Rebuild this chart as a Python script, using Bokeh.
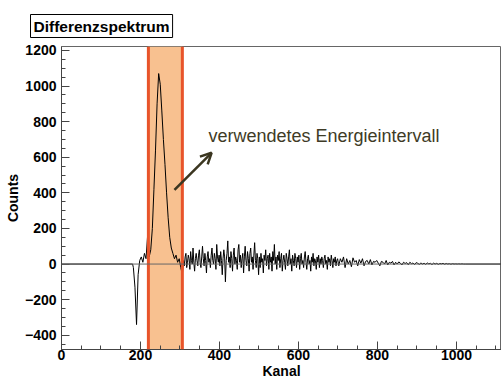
import numpy as np
from bokeh.plotting import figure
from bokeh.models import Range1d, SingleIntervalTicker, Span, Arrow, OpenHead
from bokeh.core.properties import value
from bokeh.embed import file_html
from bokeh.resources import INLINE

# ---- data ----
# (start channel, bin width, counts)
seg_peak_start, seg_peak_width = 180, 4
counts_peak = [-20, -130, -340, -60, 20, 40, 10, 60, 30, 160,
               40, 80, 200, 420, 640, 900, 1070, 1010, 860, 700, 560, 400, 260, 150,
               90, 60, 30, 50, 10, 30, -20, -60]
seg_a_start, seg_a_width = 308, 2
counts_a = [20, -10, 40, 60, -20, 10, 50, 30, -30, 70, 20, 0, 90, 10, -40, 30, 60, 20, -10, 50,
            80, 10, -20, 40, 100, 30, -10, 60, 20, -50, 40, 70, 10, 30, -20, 50, 90, 20, 0, 60,
            30, -30, 110, 40, 10, 50, -10, 70, 20, -60, 30, 80, 40, -100, 20, 60, 130, 10, 40, -20,
            70, 30, -40, 50, 90, 0, 40, 20, -30, 80, 110, 10, 50, -20, 30, 60, -50, 40, 100, 20,
            -10, 70, 30, -40, 60, 90, 10, 40, -30, 50, 120, 20, -20, 60, 30, -60]
seg_b_start, seg_b_width = 500, 2
counts_b = [40, -20, 60, 10, 30, -50, 50, 20, 80, -10, 30, 50, -30, 60, 10, 40, -40, 70, 20, 110,
            0, 40, -30, 50, 20, 70, -20, 30, 60, -40, 20, 50, 10, -30, 60, 30, -10, 40, 80, 0,
            30, -40, 50, 20, -10, 60, 30, -20, 40, 10, 50, -30, 30, 60, 0, 20, -20, 40, 70, 10,
            -30, 30, 50, 0, 20, -40, 40, 10, 60, -10, 30, 20, -30, 40, 10, 50, -20, 30, 0, 40,
            20, -20, 30, 50, 0, 20, -30, 40, 10, 30, -10, 50, 20, -20, 30, 10, 40, -10, 20, 30]
seg_c_start, seg_c_width = 700, 4
counts_c = [-10, 30, 10, 40, -20, 30, 0, 20, -15, 35, 10, 20, -10, 25, 5, 30, -10, 15, 20, 0,
            25, -5, 15, 10, 20,
            5, -10, 15, 10, 0, 20, -5, 10, 5, 15, -5, 10, 0, 12, 5, -5, 10, 3, 8, -4, 10, 2, 6,
            -3, 8,
            4, -2, 6, 0, 5, -2, 6, 1, 4, -3, 5, 0, 4, -2, 3, 1, 4, -1, 3, 0, 2, -1, 2, 0, 1, 0,
            1, 0, 1, 0, 0]

interval = [220, 306]
tick_interval = 200
annotation_text = "verwendetes Energieintervall"
arrow_start = (286, 417)
arrow_end = (380, 625)
text_pos = (372, 720)
title_text = "Differenzspektrum"

segments = [(seg_peak_start, seg_peak_width, counts_peak),
            (seg_a_start, seg_a_width, counts_a),
            (seg_b_start, seg_b_width, counts_b),
            (seg_c_start, seg_c_width, counts_c)]

x_lo, x_hi = 0, 1114
y_lo, y_hi = -480, 1222

hx = [x_lo, seg_peak_start]
hy = [0, 0]
for start, width, vals in segments:
    hx += list(start + width * (np.arange(len(vals)) + 0.5))
    hy += list(vals)
last_edge = seg_c_start + seg_c_width * len(counts_c)
hx += [last_edge, x_hi]
hy += [0, 0]

W, H = 501, 381
p = figure(width=W, height=H, output_backend="svg", toolbar_location=None,
           x_range=Range1d(x_lo, x_hi), y_range=Range1d(y_lo, y_hi),
           min_border_left=61, min_border_right=0, min_border_top=46, min_border_bottom=32)
p.xgrid.visible = False
p.ygrid.visible = False
p.outline_line_color = "#666666"
p.background_fill_color = "white"
p.border_fill_color = "white"

# title box
p.title.text = title_text
p.title.align = "left"
p.title.vertical_align = "top"
p.title.offset = -31
p.title.standoff = 14
p.title.text_font = "Liberation Sans"
p.title.text_font_style = "bold"
p.title.text_font_size = "15.5px"
p.title.text_color = "black"
p.title.border_line_color = "black"
p.title.border_line_width = 1
p.title.background_fill_color = "white"
p.title.padding = 3

# orange band
p.quad(left=[interval[0]], right=[interval[1]], top=[y_hi], bottom=[y_lo],
       fill_color="#f8c190", line_color=None)
for xv in interval:
    p.add_layout(Span(location=xv, dimension="height", line_color="#e8542a", line_width=3))

# zero line
p.add_layout(Span(location=0, dimension="width", line_color="#666666", line_width=1))

# histogram
p.line(x=hx, y=hy, line_color="black", line_width=1)

# arrow + text
p.add_layout(Arrow(end=OpenHead(line_color="#3b3620", line_width=2.5, size=11),
                   x_start=arrow_start[0], y_start=arrow_start[1],
                   x_end=arrow_end[0], y_end=arrow_end[1],
                   line_color="#3b3620", line_width=2.5))
p.text(x=[text_pos[0]], y=[text_pos[1]], text=[annotation_text],
       text_font=value("Liberation Sans"), text_font_size="18px",
       text_color="#3e3b26", text_baseline="middle", text_align="left")

# axes
for ax in (p.xaxis[0], p.yaxis[0]):
    ax.ticker = SingleIntervalTicker(interval=tick_interval, num_minor_ticks=4)
    ax.major_tick_in = 8
    ax.major_tick_out = 0
    ax.minor_tick_in = 4
    ax.minor_tick_out = 0
    ax.axis_line_color = "#444444"
    ax.major_tick_line_color = "#444444"
    ax.minor_tick_line_color = "#444444"
    ax.major_label_text_font = "Liberation Sans"
    ax.major_label_text_font_style = "bold"
    ax.major_label_text_font_size = "14px"
    ax.major_label_text_color = "black"
    ax.axis_label_text_font = "Liberation Sans"
    ax.axis_label_text_font_style = "bold"
    ax.axis_label_text_font_size = "14px"
    ax.axis_label_text_color = "black"

p.xaxis.axis_label = "Kanal"
p.yaxis.axis_label = "Counts"
p.xaxis.major_label_standoff = 0
p.xaxis.axis_label_standoff = 0
p.yaxis.major_label_standoff = 5
p.yaxis.axis_label_standoff = 1

open("out.html", "w").write(file_html(p, INLINE))
